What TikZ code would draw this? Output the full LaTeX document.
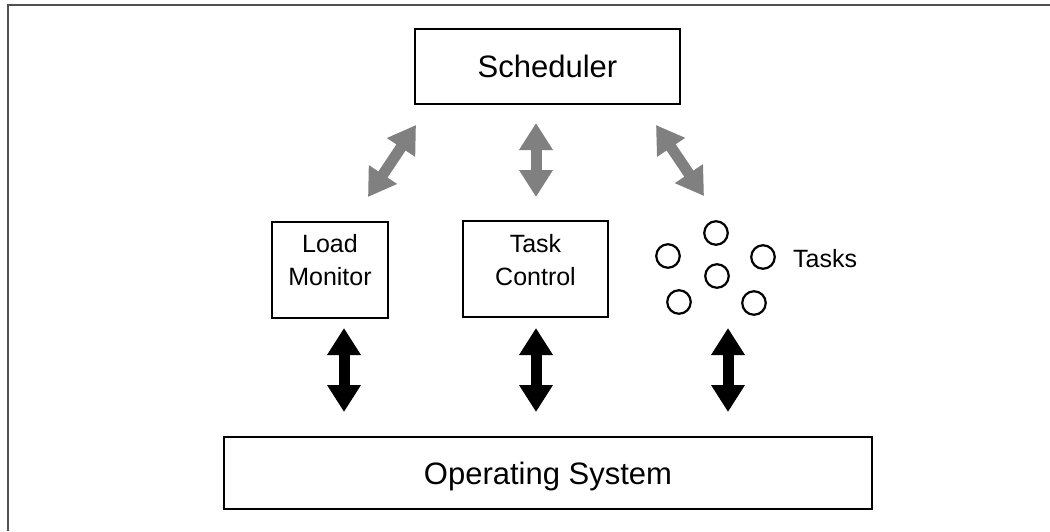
\documentclass[tikz,border=0pt]{standalone}
\usepackage{fontspec}
\setmainfont{Liberation Sans}
\usetikzlibrary{arrows.meta}
\definecolor{ctlgray}{HTML}{808080}
\definecolor{framegray}{HTML}{505050}
\begin{document}
\begin{tikzpicture}[x=1pt,y=-1pt,
  box/.style={draw=black, line width=2pt, inner sep=0pt},
  big/.style={font=\fontsize{31}{37}\selectfont, inner sep=0pt},
  small/.style={font=\fontsize{25}{33}\selectfont, inner sep=0pt, align=center},
  task/.style={circle, draw=black, line width=2.2pt, minimum size=23.5pt, inner sep=0pt},
  link/.style={line width=11pt,
    {Triangle[width=32pt,length=27pt]}-{Triangle[width=32pt,length=27pt]}},
  ctl/.style={link, draw=ctlgray},
  sys/.style={link, draw=black},
]
\useasboundingbox (0,0) rectangle (1050,531);

% page frame (top and left edges)
\draw[line width=2pt, draw=framegray] (1050,5) -- (8,5) -- (8,531);

% boxes
\node[box, minimum width=265pt, minimum height=75pt] (sched) at (547.5,66) {};
\node[big, anchor=base] (schedt) at (547.5,77) {Scheduler};

\node[box, minimum width=116pt, minimum height=96pt] (lm) at (330,270) {};
\node[small] (lmt) at (330,260.5) {Load\\Monitor};

\node[box, minimum width=145pt, minimum height=96pt] (tc) at (535.5,269) {};
\node[small] (tct) at (535.5,260.5) {Task\\Control};

\node[box, minimum width=648pt, minimum height=72pt] (os) at (548,473) {};
\node[big, anchor=base] (ost) at (548,484) {Operating System};

% tasks
\node[task] (t1) at (716,233) {};
\node[task] (t2) at (668,256) {};
\node[task] (t3) at (763,257) {};
\node[task] (t4) at (717,276) {};
\node[task] (t5) at (679,302) {};
\node[task] (t6) at (754,303) {};
\node[small, anchor=base west] (tasks) at (793,267) {Tasks};

% scheduler links
\coordinate (s1) at (416,125);
\coordinate (s1b) at (368,197);
\coordinate (s2) at (536,123);
\coordinate (s2b) at (536,197);
\coordinate (s3) at (656,125);
\coordinate (s3b) at (704,196);
\draw[ctl] (s1) -- (s1b);
\draw[ctl] (s2) -- (s2b);
\draw[ctl] (s3) -- (s3b);

% operating system links
\coordinate (o1) at (344,328);
\coordinate (o1b) at (344,412);
\coordinate (o2) at (536,328);
\coordinate (o2b) at (536,412);
\coordinate (o3) at (728,328);
\coordinate (o3b) at (728,412);
\draw[sys] (o1) -- (o1b);
\draw[sys] (o2) -- (o2b);
\draw[sys] (o3) -- (o3b);
\end{tikzpicture}
\end{document}
